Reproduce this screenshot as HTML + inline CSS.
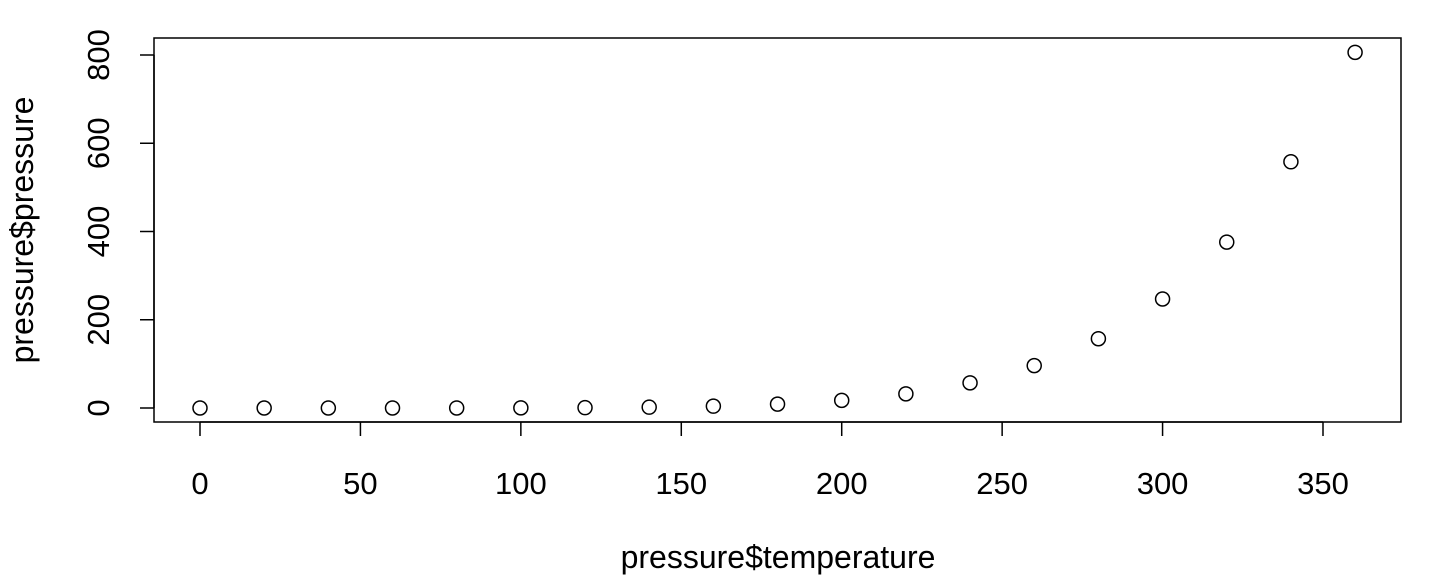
<!DOCTYPE html>
<html><head><meta charset="utf-8"><style>
html,body{margin:0;padding:0;background:#fff;}
svg{display:block;font-family:"Liberation Sans",sans-serif;}
</style></head><body>
<svg id="chart" width="1440" height="576" viewBox="0 0 1440 576" xmlns="http://www.w3.org/2000/svg">
<rect x="154" y="38" width="1247" height="384" fill="none" stroke="#000" stroke-width="1.5"/>
<g id="xaxis"></g>
<g id="yaxis"></g>
<g id="points"></g>
<text x="778" y="568" font-size="32" text-anchor="middle">pressure$temperature</text>
<text transform="translate(33,230) rotate(-90)" font-size="32" text-anchor="middle">pressure$pressure</text>
</svg>
<script>
const temperature=[0,20,40,60,80,100,120,140,160,180,200,220,240,260,280,300,320,340,360];
const pressure=[0.0002,0.0012,0.006,0.03,0.09,0.27,0.75,1.85,4.2,8.8,17.3,32.1,57,96,157,247,376,558,806];
const xTicks=[0,50,100,150,200,250,300,350];
const yTicks=[0,200,400,600,800];
const NS="http://www.w3.org/2000/svg";
function sx(v){return 200+v*(1323-200)/350;}
function sy(v){return 408-v*(408-55)/800;}
function mk(tag,attrs,parent){const e=document.createElementNS(NS,tag);for(const k in attrs)e.setAttribute(k,attrs[k]);parent.appendChild(e);return e;}
const xa=document.getElementById('xaxis'),ya=document.getElementById('yaxis'),pts=document.getElementById('points');
mk('line',{x1:sx(xTicks[0]),x2:sx(xTicks[xTicks.length-1]),y1:422,y2:422,stroke:'#000','stroke-width':1.5},xa);
xTicks.forEach(t=>{
  const l=mk('line',{x1:sx(t),x2:sx(t),y1:422,y2:436,stroke:'#000','stroke-width':1.5},xa);
  
  
  const tx=mk('text',{x:sx(t),y:494,'font-size':31,'text-anchor':'middle'},xa);
  tx.textContent=t;
  
  
});
mk('line',{x1:154,x2:154,y1:sy(yTicks[0]),y2:sy(yTicks[yTicks.length-1]),stroke:'#000','stroke-width':1.5},ya);
yTicks.forEach(t=>{
  const l=mk('line',{x1:140,x2:154,y1:sy(t),y2:sy(t),stroke:'#000','stroke-width':1.5},ya);
  
  
  const tx=mk('text',{transform:`translate(109,${sy(t)}) rotate(-90)`,'font-size':31,'text-anchor':'middle'},ya);
  tx.textContent=t;
  
  
});
temperature.forEach((t,i)=>{
  const c=mk('circle',{cx:sx(t),cy:sy(pressure[i]),r:7,fill:'none',stroke:'#000','stroke-width':1.5},pts);
  
  
});
</script>
</body></html>
